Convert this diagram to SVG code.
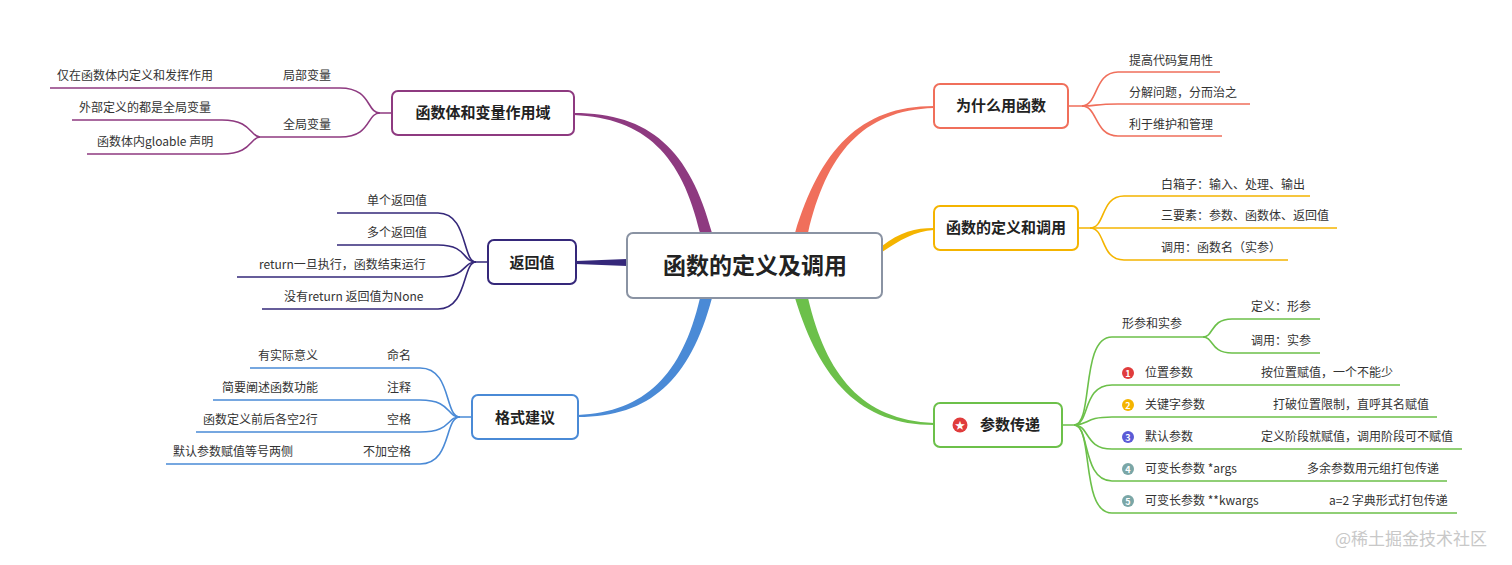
<svg xmlns="http://www.w3.org/2000/svg" width="1512" height="565" viewBox="0 0 1512 565">
<style>
text{font-family:"Noto Sans CJK SC","Noto Sans",sans-serif;font-size:12px;fill:#333}
.n{font-size:15px;font-weight:bold;text-anchor:middle;fill:#222}
.c{fill:none;stroke-width:1.6}
.nb{fill:#fff;stroke-width:2}
.num{font-size:9px;font-weight:bold;fill:#fff;text-anchor:middle}
</style>
<rect width="1512" height="565" fill="#fff"/>
<g id="connectors">
<!-- main branches -->
<path d="M795 233 C820 150 860 106 934 106 L934 108 C862 110 826 155 808 233Z" fill="#f06f5b"/>
<path d="M882 246 C900 232 915 228 934 228 L934 230 C915 231 900 240 882 252Z" fill="#f4b400"/>
<path d="M795 298 C820 380 860 425 934 425 L934 423 C862 420 826 375 808 298Z" fill="#6cc04a"/>
<path d="M712 233 C690 150 650 113 574 113 L574 115 C645 118 682 155 700 233Z" fill="#8e3a80"/>
<path d="M627 259 L576 261 L576 264 L627 266Z" fill="#35287a"/>
<path d="M712 298 C690 380 650 417 578 417 L578 415 C645 412 682 375 700 298Z" fill="#4a8ad6"/>
<!-- 为什么用函数 -->
<g stroke="#f06f5b" class="c">
<path d="M1068 106 H1082 C1098 106 1094 72 1118 72 H1220"/>
<path d="M1082 106 C1098 106 1094 104 1118 104 H1250"/>
<path d="M1082 106 C1098 106 1094 136 1118 136 H1222"/>
</g>
<!-- 函数的定义和调用 -->
<g stroke="#f4b400" class="c">
<path d="M1078 228 H1090 C1106 228 1100 196 1124 196 H1310"/>
<path d="M1090 228 C1106 228 1100 228 1124 228 H1337"/>
<path d="M1090 228 C1106 228 1100 260 1124 260 H1288"/>
</g>
<!-- 参数传递 -->
<g stroke="#6cc04a" class="c">
<path d="M1062 425 H1074 C1094 425 1080 337 1112 337 H1203"/>
<path d="M1203 337 C1214 337 1210 319 1232 319 H1320"/>
<path d="M1203 337 C1214 337 1210 353 1232 353 H1320"/>
<path d="M1074 425 C1090 425 1082 385 1112 385 H1400"/>
<path d="M1074 425 C1090 425 1084 417 1112 417 H1437"/>
<path d="M1074 425 C1090 425 1084 449 1112 449 H1462"/>
<path d="M1074 425 C1090 425 1082 481 1112 481 H1447"/>
<path d="M1074 425 C1094 425 1080 513 1112 513 H1457"/>
</g>
<!-- 函数体和变量作用域 -->
<g stroke="#8e3a80" class="c">
<path d="M392 113 H380 C366 113 372 88 340 88 H50"/>
<path d="M380 113 C366 113 372 137 340 137 H260"/>
<path d="M260 137 C250 137 252 120 222 120 H72"/>
<path d="M260 137 C250 137 252 154 222 154 H87"/>
</g>
<!-- 返回值 -->
<g stroke="#35287a" class="c">
<path d="M488 262 H476 C462 262 468 213 438 213 H337"/>
<path d="M476 262 C462 262 468 245 438 245 H337"/>
<path d="M476 262 C462 262 468 277 438 277 H237"/>
<path d="M476 262 C462 262 468 309 438 309 H262"/>
</g>
<!-- 格式建议 -->
<g stroke="#4a8ad6" class="c">
<path d="M472 417 H460 C444 417 452 368 420 368 H250"/>
<path d="M460 417 C446 417 452 400 420 400 H213"/>
<path d="M460 417 C446 417 452 432 420 432 H196"/>
<path d="M460 417 C444 417 452 464 420 464 H166"/>
</g>
</g>
<g id="center"><rect x="627" y="233" width="255" height="65" rx="6" class="nb" stroke="#8a93a3" stroke-width="2.5"/><text x="755" y="274" class="n" style="font-size:23px">函数的定义及调用</text></g>
<g id="why"><rect x="934" y="84" width="134" height="44" rx="6" class="nb" stroke="#f06f5b"/><text x="1001" y="111" class="n">为什么用函数</text>
<text x="1129" y="65">提高代码复用性</text><text x="1129" y="97">分解问题，分而治之</text><text x="1129" y="129">利于维护和管理</text></g>
<g id="def"><rect x="934" y="206" width="144" height="44" rx="6" class="nb" stroke="#f4b400"/><text x="1006" y="233" class="n">函数的定义和调用</text>
<text x="1161" y="189">白箱子：输入、处理、输出</text><text x="1161" y="220">三要素：参数、函数体、返回值</text><text x="1161" y="252">调用：函数名（实参）</text></g>
<g id="param"><rect x="934" y="403" width="128" height="44" rx="6" class="nb" stroke="#6cc04a"/>
<circle cx="960" cy="425" r="7.5" fill="#e03c3c"/><text x="960" y="429" class="num" style="font-size:10px">★</text>
<text x="1010" y="430" class="n">参数传递</text>
<text x="1122" y="328">形参和实参</text><text x="1251" y="311">定义：形参</text><text x="1251" y="345">调用：实参</text>
<circle cx="1128" cy="373" r="6" fill="#e03c3c"/><text x="1128" y="376.5" class="num">1</text><text x="1145" y="377">位置参数</text><text x="1261" y="377">按位置赋值，一个不能少</text>
<circle cx="1128" cy="405" r="6" fill="#f4b400"/><text x="1128" y="408.5" class="num">2</text><text x="1145" y="409">关键字参数</text><text x="1273" y="409">打破位置限制，直呼其名赋值</text>
<circle cx="1128" cy="437" r="6" fill="#5b5bd6"/><text x="1128" y="440.5" class="num">3</text><text x="1145" y="441">默认参数</text><text x="1261" y="441">定义阶段就赋值，调用阶段可不赋值</text>
<circle cx="1128" cy="469" r="6" fill="#7aa6a6"/><text x="1128" y="472.5" class="num">4</text><text x="1145" y="473">可变长参数 *args</text><text x="1307" y="473">多余参数用元组打包传递</text>
<circle cx="1128" cy="501" r="6" fill="#7aa6a6"/><text x="1128" y="504.5" class="num">5</text><text x="1145" y="505">可变长参数 **kwargs</text><text x="1329" y="505">a=2 字典形式打包传递</text></g>
<g id="scope"><rect x="392" y="91" width="182" height="44" rx="6" class="nb" stroke="#8e3a80"/><text x="483" y="118" class="n">函数体和变量作用域</text>
<text x="283" y="80">局部变量</text><text x="57" y="80">仅在函数体内定义和发挥作用</text><text x="283" y="129">全局变量</text>
<text x="79" y="112">外部定义的都是全局变量</text><text x="97" y="146">函数体内gloable 声明</text></g>
<g id="ret"><rect x="488" y="240" width="88" height="44" rx="6" class="nb" stroke="#35287a"/><text x="532" y="268" class="n">返回值</text>
<text x="367" y="205">单个返回值</text><text x="367" y="237">多个返回值</text><text x="259" y="269">return一旦执行，函数结束运行</text><text x="284" y="301">没有return 返回值为None</text></g>
<g id="fmt"><rect x="472" y="395" width="106" height="44" rx="6" class="nb" stroke="#4a8ad6"/><text x="525" y="423" class="n">格式建议</text>
<text x="387" y="360">命名</text><text x="258" y="360">有实际意义</text><text x="387" y="392">注释</text><text x="222" y="392">简要阐述函数功能</text>
<text x="387" y="424">空格</text><text x="203" y="424">函数定义前后各空2行</text><text x="363" y="456">不加空格</text><text x="173" y="456">默认参数赋值等号两侧</text></g>
<text x="1335" y="545" style="font-size:17px;fill:#c8c8c8">@稀土掘金技术社区</text>
</svg>
